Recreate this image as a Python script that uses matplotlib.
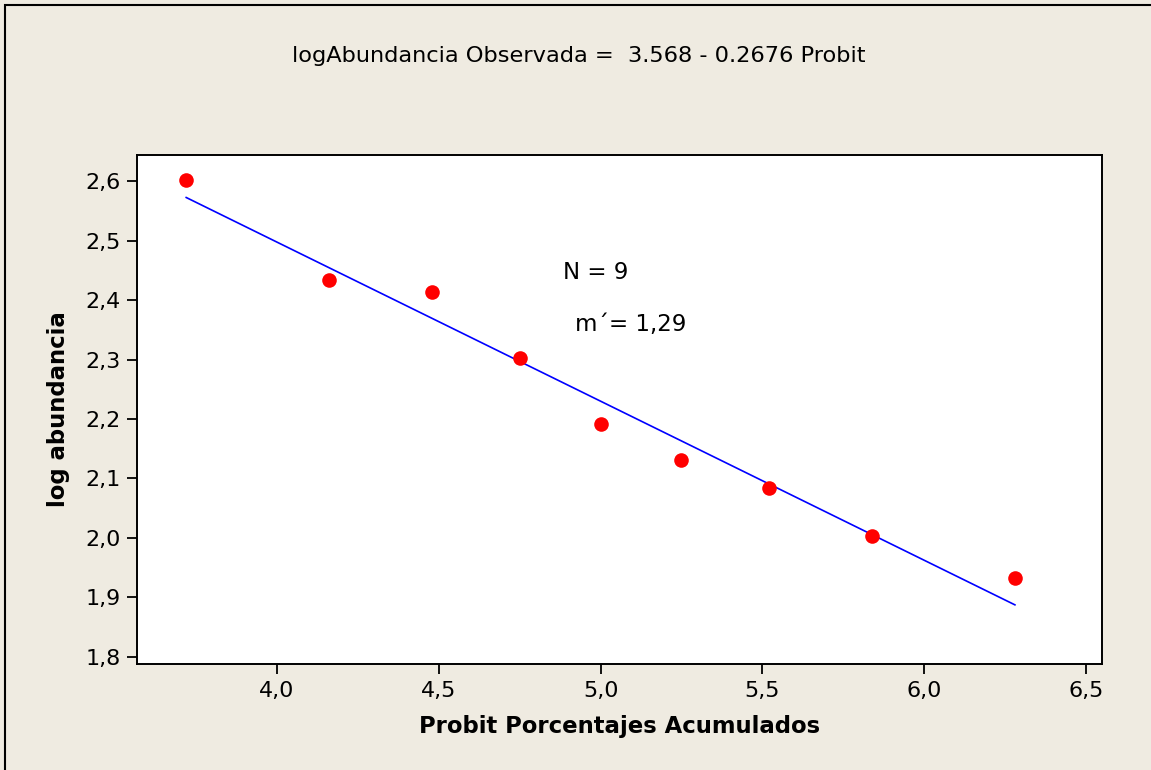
import matplotlib.pyplot as plt
from matplotlib.patches import Rectangle
import numpy as np

# data
probit = [3.72, 4.16, 4.48, 4.75, 5.00, 5.25, 5.52, 5.84, 6.28]
log_abund = [2.602, 2.434, 2.413, 2.303, 2.192, 2.131, 2.084, 2.003, 1.933]
intercept, slope = 3.568, -0.2676

xticks = [4.0, 4.5, 5.0, 5.5, 6.0, 6.5]
yticks = [1.8, 1.9, 2.0, 2.1, 2.2, 2.3, 2.4, 2.5, 2.6]

W, H = 1151, 770
bg = '#EFEBE1'

plt.rcParams['font.family'] = ['DejaVu Sans']

fig = plt.figure(figsize=(W / 100, H / 100), dpi=100, facecolor=bg)
ax = fig.add_axes([137 / W, 1 - 664 / H, (1102 - 137) / W, (664 - 155) / H])
ax.set_facecolor('white')

fit = [intercept + slope * p for p in probit]
ax.plot(probit, fit, color='#0000FF', lw=1.2, zorder=2)
ax.plot(probit, log_abund, 'o', color='#FF0000', ms=10.5, mec='none', zorder=3)

ax.set_xlim(3.568, 6.549)
ax.set_ylim(1.788, 2.644)
ax.set_xticks(xticks)
ax.set_yticks(yticks)
ax.set_xticklabels([f'{v:.1f}'.replace('.', ',') for v in xticks])
ax.set_yticklabels([f'{v:.1f}'.replace('.', ',') for v in yticks])
ax.tick_params(direction='out', length=7, width=1.3, labelsize=16, pad=5)
for s in ax.spines.values():
    s.set_linewidth(1.4)

ax.set_xlabel('Probit Porcentajes Acumulados', fontsize=16.4, fontweight='bold', labelpad=10)
ax.set_ylabel('log abundancia', fontsize=16.4, fontweight='bold', labelpad=11)

fig.text(0.503, 1 - 56 / H, 'logAbundancia Observada =  3.568 - 0.2676 Probit',
         ha='center', va='center', fontsize=16.2)
ax.text(596 / W, 1 - 273 / H, 'N = 9', transform=fig.transFigure,
        ha='center', va='center', fontsize=16.5)
ax.text(631 / W, 1 - 325 / H, 'm\u00b4= 1,29', transform=fig.transFigure,
        ha='center', va='center', fontsize=16.5)

# outer frame, only left and top edges are visible
fig.patches.append(Rectangle((4.5 / W, -0.1), 1.2, 1.1 - 5.5 / H, transform=fig.transFigure,
                             fill=False, ec='black', lw=1.5))

fig.savefig('out.png', dpi=100, facecolor=bg)
